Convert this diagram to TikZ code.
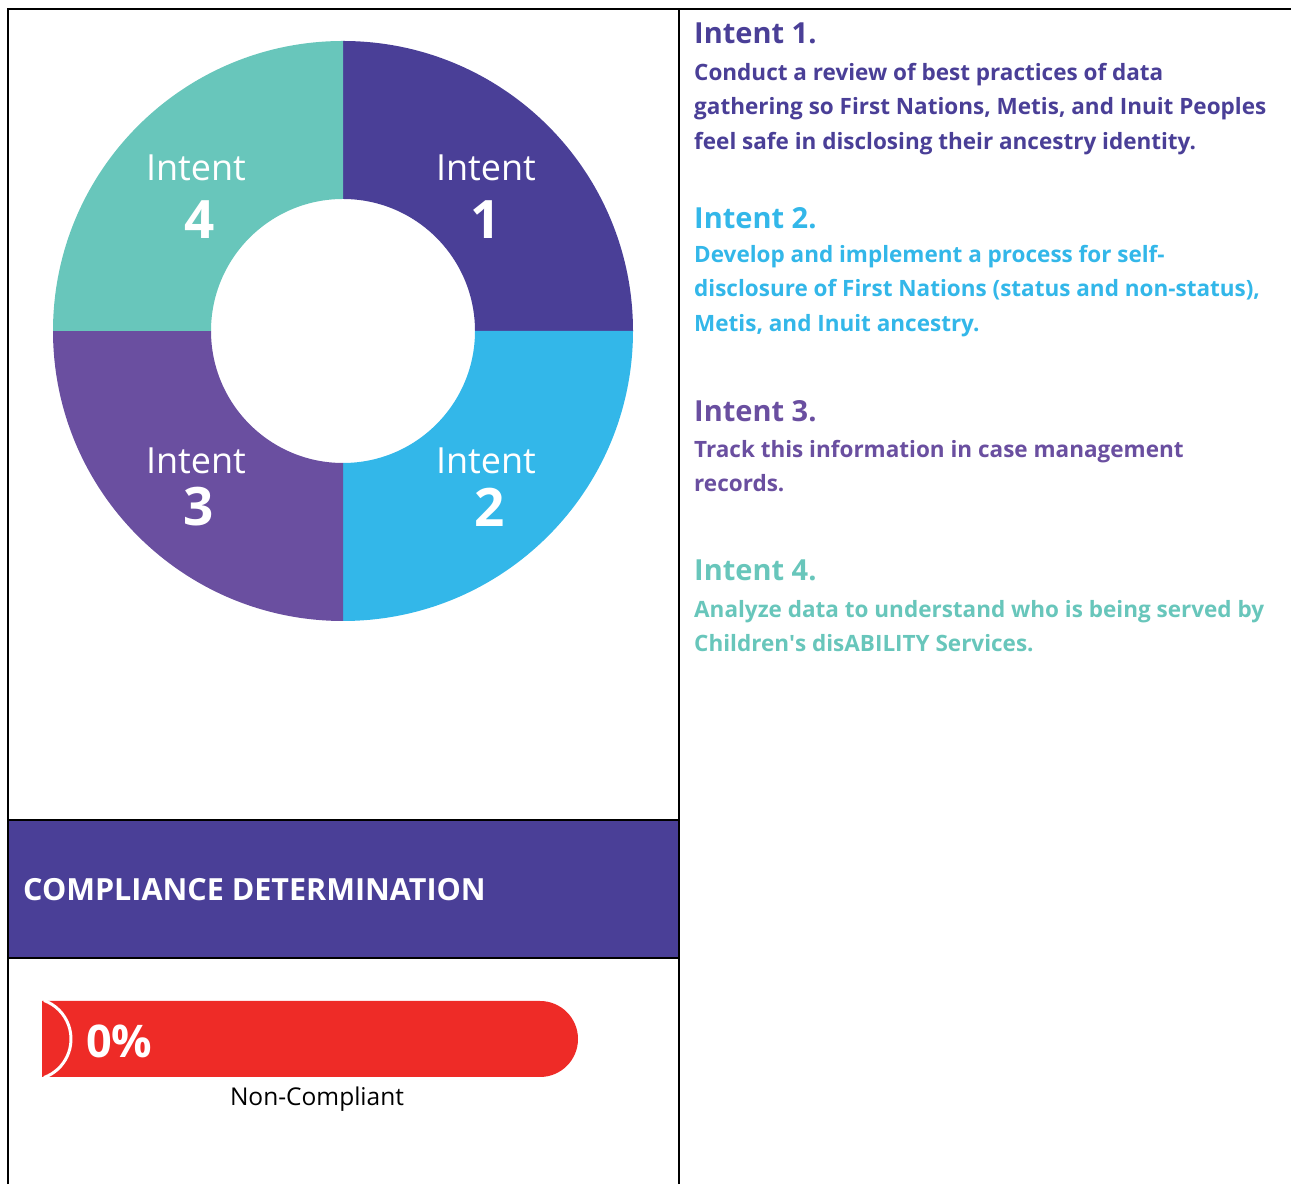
\documentclass[tikz,border=0pt]{standalone}
\usepackage{fontspec}
\setmainfont{Open Sans}
\usetikzlibrary{positioning}

\definecolor{intentone}{RGB}{74,63,151}
\definecolor{intenttwo}{RGB}{51,183,233}
\definecolor{intentthree}{RGB}{106,79,160}
\definecolor{intentfour}{RGB}{104,198,187}
\definecolor{barred}{RGB}{238,43,39}

\tikzset{
  rule/.style={line width=2pt},
  heading/.style={anchor=north west, inner sep=0pt, font={\bfseries\fontsize{29}{34}\selectfont}},
  body/.style={anchor=north west, inner sep=0pt, align=left, font={\bfseries\fontsize{22.5}{34.5}\selectfont}},
  ringlabel/.style={text=white, inner sep=0pt, font={\fontsize{36}{40}\selectfont}},
  ringnum/.style={text=white, inner sep=0pt, font={\bfseries\fontsize{53}{56}\selectfont}}
}

\begin{document}
\begin{tikzpicture}[x=1pt, y=1pt]
    \useasboundingbox (0,0) rectangle (1291,1184);

    % donut
    \begin{scope}[shift={(343,853)}]
      \foreach \a/\b/\c in {0/90/intentone, -90/0/intenttwo, 180/270/intentthree, 90/180/intentfour}
        \fill[\c] (\a:290pt) arc (\a:\b:290pt) -- (\b:132pt) arc (\b:\a:132pt) -- cycle;
    \end{scope}
    \node[ringlabel] (lab1) at (486,1016) {Intent};
    \node[ringnum] (num1) at (486,964) {1};
    \node[ringlabel] (lab2) at (486,723) {Intent};
    \node[ringnum] (num2) at (490,677) {2};
    \node[ringlabel] (lab3) at (196,723) {Intent};
    \node[ringnum] (num3) at (199,677) {3};
    \node[ringlabel] (lab4) at (196,1016) {Intent};
    \node[ringnum] (num4) at (200,964) {4};

    % compliance band
    \fill[intentone] (8,226) rectangle (679,364);
    \draw[rule] (8,364) -- (679,364);
    \draw[rule] (8,226) -- (679,226);
    \node[anchor=base west, inner sep=0pt, text=white, font={\bfseries\fontsize{30.5}{34}\selectfont}] (comp) at (23,283) {COMPLIANCE DETERMINATION};

    % table rules
    \draw[rule] (8,0) -- (8,1175) -- (1291,1175);
    \draw[rule] (679,0) -- (679,1175);

    % progress bar
    \fill[barred] (42,107) -- (540,107) arc (-90:90:38pt) -- (42,183) -- cycle;
    \begin{scope}
      \clip (42,107) rectangle (578,183);
      \draw[white, line width=3pt] (30,145) ++(-70:41pt) arc (-70:70:41pt);
    \end{scope}
    \node[anchor=west, inner sep=0pt, text=white, font={\bfseries\fontsize{45}{50}\selectfont}] (pct) at (86,143) {0\%};
    \node[inner sep=0pt, font={\fontsize{24.5}{28}\selectfont}] (status) at (317,85) {Non-Compliant};

    % intents
    \node[heading, text=intentone] (h1) at (694,1161) {Intent 1.};
    \node[body, text=intentone] (b1) at (694,1121) {Conduct a review of best practices of data\\gathering so First Nations, Metis, and Inuit Peoples\\feel safe in disclosing their ancestry identity.};
    \node[heading, text=intenttwo] (h2) at (694,977) {Intent 2.};
    \node[body, text=intenttwo] (b2) at (694,939) {Develop and implement a process for self-\\disclosure of First Nations (status and non-status),\\Metis, and Inuit ancestry.};
    \node[heading, text=intentthree] (h3) at (694,784) {Intent 3.};
    \node[body, text=intentthree] (b3) at (694,744) {Track this information in case management\\records.};
    \node[heading, text=intentfour] (h4) at (694,624) {Intent 4.};
    \node[body, text=intentfour] (b4) at (694,584) {Analyze data to understand who is being served by\\Children\textquotesingle s disABILITY Services.};
\end{tikzpicture}
\end{document}
